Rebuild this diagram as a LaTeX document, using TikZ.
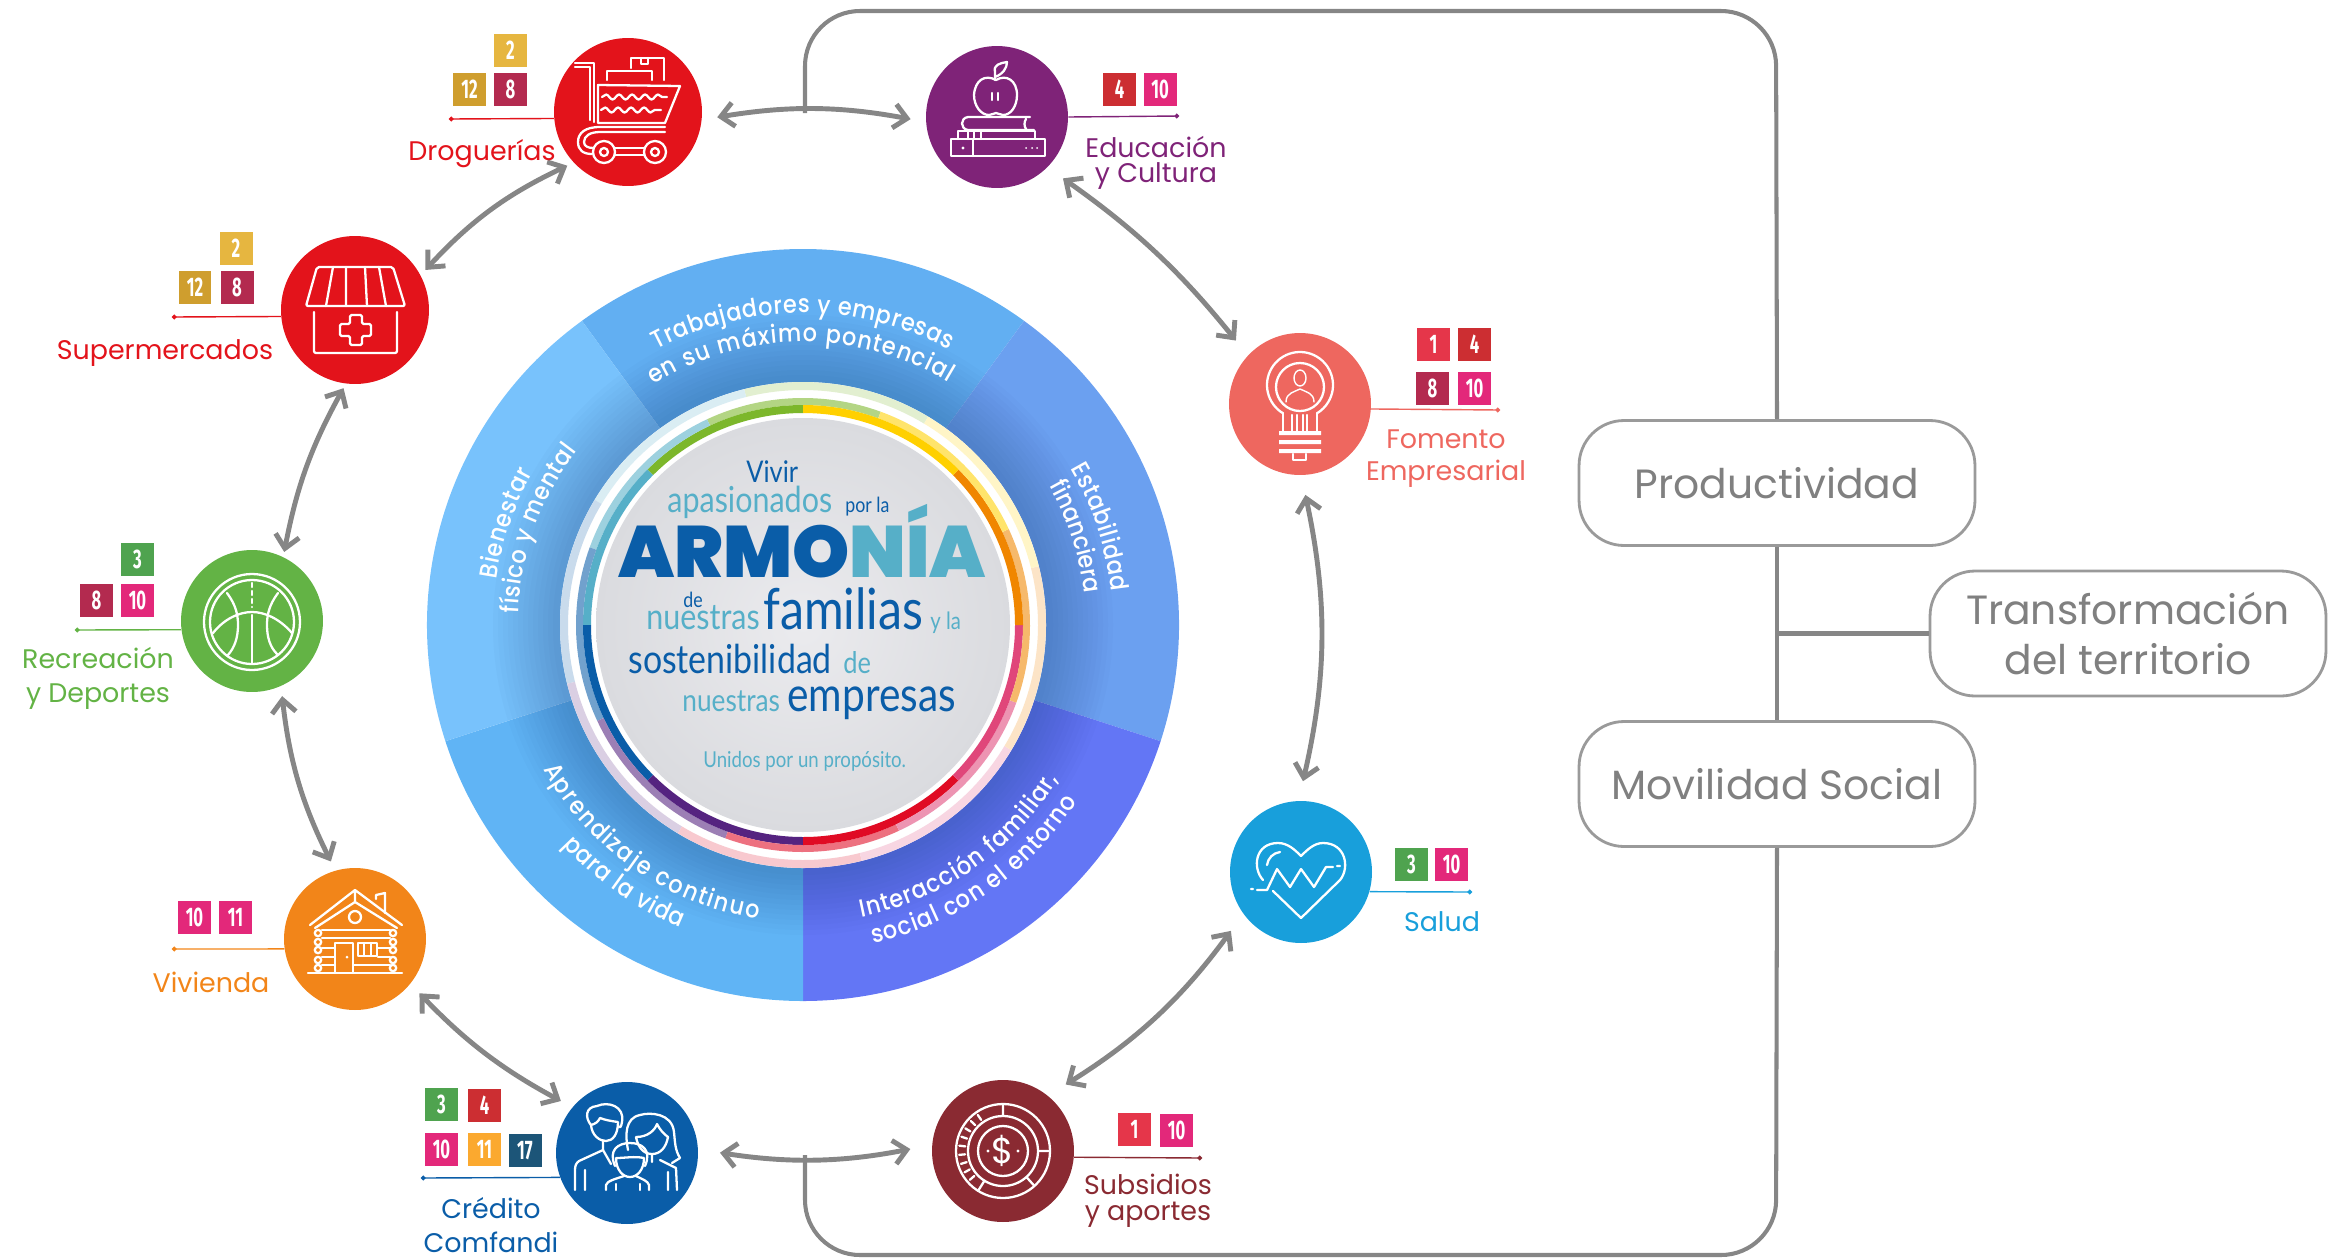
\documentclass[tikz,border=0pt]{standalone}
\usepackage{fontspec}
\setmainfont{Poppins}
\newfontfamily\wordfont[FakeStretch=0.85]{Lato}
\newfontfamily\armfont{Poppins Black}
\newfontfamily\sectorface[FakeStretch=0.9]{Poppins Medium}
\newfontfamily\sdgfont[FakeStretch=0.62]{Fira Sans}
\usetikzlibrary{arrows.meta,decorations.text,decorations.pathmorphing}

\definecolor{linkgray}{HTML}{868686}
\definecolor{boxgray}{HTML}{9A9A9A}
\definecolor{boxtext}{HTML}{808080}
\definecolor{sdgone}{HTML}{E5364A}
\definecolor{sdgtwo}{HTML}{E6B640}
\definecolor{sdgthree}{HTML}{4FA34F}
\definecolor{sdgfour}{HTML}{CC2E32}
\definecolor{sdgeight}{HTML}{B32A4F}
\definecolor{sdgten}{HTML}{E3287A}
\definecolor{sdgeleven}{HTML}{FBA92F}
\definecolor{sdgtwelve}{HTML}{CF9E2E}
\definecolor{sdgseventeen}{HTML}{1C5578}
\definecolor{hubred}{HTML}{E3131B}
\definecolor{hubpurple}{HTML}{7F2378}
\definecolor{hubcoral}{HTML}{EE675F}
\definecolor{hubsky}{HTML}{189FDB}
\definecolor{hubwine}{HTML}{8A2A32}
\definecolor{hubblue}{HTML}{0A5DA8}
\definecolor{huborange}{HTML}{F28519}
\definecolor{hubgreen}{HTML}{63B345}
\definecolor{ringgreen}{HTML}{7CB72B}
\definecolor{ringteal}{HTML}{56AFC8}
\definecolor{ringblue}{HTML}{0A5DA8}
\definecolor{ringpurple}{HTML}{552380}
\definecolor{ringred}{HTML}{E00B24}
\definecolor{ringpink}{HTML}{E0467A}
\definecolor{ringorange}{HTML}{F08600}
\definecolor{ringyellow}{HTML}{FFD000}
\definecolor{secone}{HTML}{62AFF2}
\definecolor{sectwo}{HTML}{6BA0F0}
\definecolor{secthree}{HTML}{6376F5}
\definecolor{secfour}{HTML}{60B4F5}
\definecolor{secfive}{HTML}{78C2FC}
\definecolor{shadeblue}{HTML}{1F3F7A}
\definecolor{discin}{HTML}{EBEBEE}
\definecolor{discout}{HTML}{DADBDF}

% px sizes, one px is .02cm
\newcommand\pxsize[2]{\fontsize{\the\dimexpr.5669pt*#1\relax}{\the\dimexpr.5669pt*#2\relax}\selectfont}
\newcommand\sectorfont{\sectorface\pxsize{25}{29}}
\newcommand\ringseg[5]{\fill[fill=#5] (#1:#3) arc (#1:#2:#3) -- (#2:#4) arc (#2:#1:#4) -- cycle;}
\newlength\armw
\newlength\oww

\tikzset{
  hub/.style={circle,fill=#1,minimum size=2.84cm,inner sep=0pt},
  sdg/.style={fill=#1,text=white,minimum size=.66cm,inner sep=0pt,font=\sdgfont\bfseries\pxsize{27}{27}},
  hublabel/.style={text=#1,anchor=base,align=center,inner sep=0pt,font=\pxsize{27}{34}},
  leader/.style={draw=#1,line width=.8pt,-{Circle[length=.09cm]}},
  link/.style={draw=linkgray,line width=2.8pt,
    {Straight Barb[length=.26cm,width=.48cm]}-{Straight Barb[length=.26cm,width=.48cm]},
    shorten <=#1,shorten >=#1},
  framing/.style={draw=linkgray,line width=2.3pt},
  axis/.style={draw=boxgray,line width=1.6pt,fill=white,rounded corners=.9cm,
    minimum width=7.92cm,minimum height=2.5cm,inner sep=0pt,align=center,
    text=boxtext,font=\pxsize{41}{51}},
  word/.style={anchor=base west,inner sep=0pt,text=#1},
  icon/.style={draw=white,line width=1.3pt,line join=round,line cap=round},
  sectext/.style={decorate,decoration={text along path,text color=white,
    text align={fit to path},text={|\sectorfont|#1}}},
}

\begin{document}
\begin{tikzpicture}[x=.02cm,y=-.02cm]
  \useasboundingbox (0,0) rectangle (2329,1258);

  % wheel
  \begin{scope}[shift={(803,625)},y=.02cm]
    \foreach \sa/\col in {54/secone,-18/sectwo,-90/secthree,-162/secfour,126/secfive}
      \fill[fill=\col] (0,0) -- (\sa:376) arc (\sa:\sa+72:376) -- cycle;
    \foreach \r in {250,255,...,310}
      \fill[shadeblue,opacity=.022] (0,0) circle (\r);
    \fill[white] (0,0) circle (243);
    \foreach \sa/\col in {90/ringgreen,135/ringteal,180/ringblue,225/ringpurple,270/ringred,315/ringpink,0/ringorange,45/ringyellow} {
      \ringseg{\sa-31}{\sa+14}{235}{243}{\col!22}
      \ringseg{\sa-20}{\sa+25}{220}{227}{\col!58}
      \ringseg{\sa}{\sa+45}{212}{220}{\col}
    }
    \shade[inner color=discin,outer color=discout] (0,0) circle (207);

    \path[sectext={Trabajadores y empresas}] (118:312) arc (118:62:312);
    \path[sectext={en su máximo pontencial}] (122:283) arc (122:59:283);
    \path[sectext={Estabilidad}] (30.3:310) arc (30.3:6.1:310);
    \path[sectext={financiera}] (29.5:283) arc (29.5:6.5:283);
    \path[sectext={Interacción familiar,}] (-78.6:298) arc (-78.6:-31.1:298);
    \path[sectext={social con el entorno}] (-77.6:326) arc (-77.6:-32.8:326);
    \path[sectext={Aprendizaje continuo}] (209:297) arc (209:261.3:297);
    \path[sectext={para la vida}] (222.5:326) arc (222.5:248:326);
    \path[sectext={Bienestar}] (171.6:310) arc (171.6:150.6:310);
    \path[sectext={físico y mental}] (177.6:285) arc (177.6:142.4:285);
  \end{scope}

  % words in the disc
  \node[word=ringblue,font=\wordfont\pxsize{30}{30}] (vivir) at (746,482) {Vivir};
  \node[word=ringteal,font=\wordfont\pxsize{36}{36}] (apasion) at (667,512) {apasionados};
  \node[word=ringblue,font=\wordfont\pxsize{21}{21}] (porla) at (845,512) {por la};
  \node[word=ringblue,font=\armfont\pxsize{73}{73}] (armonia) at (618,577) {ARMO\textcolor{ringteal}{NÍA}};
  \settowidth{\armw}{\armfont\pxsize{73}{73}ARM}
  \settowidth{\oww}{\armfont\pxsize{73}{73}O}
  \begin{scope}
    \clip[shift={(618,553)},xshift=\armw+.5*\oww] (22,-38) -- (-23,37) -- (60,37) -- (60,-38) -- cycle;
    \node[word=ringteal,font=\armfont\pxsize{73}{73}] (armoniao) at (618,577) {\phantom{ARM}O};
  \end{scope}
  \node[word=ringblue,font=\wordfont\pxsize{21}{21}] (dea) at (683,607) {de};
  \node[word=ringteal,font=\wordfont\pxsize{36}{36}] (nuesa) at (646,629) {nuestras};
  \node[word=ringblue,font=\wordfont\pxsize{57}{57}] (famil) at (763,629) {familias};
  \node[word=ringteal,font=\wordfont\pxsize{24}{24}] (yla) at (930,629) {y la};
  \node[word=ringblue,font=\wordfont\pxsize{40}{40}] (sosten) at (628,673) {sostenibilidad};
  \node[word=ringteal,font=\wordfont\pxsize{30}{30}] (deb) at (843,673) {de};
  \node[word=ringteal,font=\wordfont\pxsize{31}{31}] (nuesb) at (682,711) {nuestras};
  \node[word=ringblue,font=\wordfont\pxsize{48}{48}] (empres) at (787,711) {empresas};
  \node[word=ringteal,font=\wordfont\pxsize{22}{22}] (unidos) at (703,767) {Unidos por un propósito.};

  % hubs
  \node[hub=hubred,minimum size=2.96cm] (drog) at (628,112) {};
  \node[hub=hubred,minimum size=2.96cm] (super) at (355,310) {};
  \node[hub=hubgreen] (recr) at (252,621) {};
  \node[hub=huborange] (viv) at (355,939) {};
  \node[hub=hubblue] (cred) at (627,1153) {};
  \node[hub=hubwine] (subs) at (1003,1151) {};
  \node[hub=hubsky] (salud) at (1301,872) {};
  \node[hub=hubcoral] (fomen) at (1300,404) {};
  \node[hub=hubpurple] (educ) at (997,117) {};

  % links between hubs
  \draw[link=.31cm] (drog.-6) to[bend left=10] (educ.184.5);
  \draw[link=.44cm] (cred.3) to[bend right=10] (subs.175);
  \draw[link=.14cm] (super.28) to[bend left=11] (drog.223);
  \draw[link=.1cm] (recr.64) to[bend left=9] (super.263);
  \draw[link=.2cm] (recr.-66.5) to[bend right=10] (viv.106);
  \draw[link=.26cm] (viv.-39) to[bend right=9] (cred.140);
  \draw[link=.42cm] (subs.51) to[bend right=11] (salud.216);
  \draw[link=.4cm] (fomen.-89) to[bend left=12.5] (salud.92);
  \draw[link=.38cm] (educ.-45) to[bend left=8] (fomen.137.6);

  % frame and axes
  \node[axis] (prod) at (1777,483) {Productividad};
  \node[axis] (mov) at (1777,784) {Movilidad Social};
  \node[axis] (trans) at (2128,633.5) {Transformación\\del territorio};
  \coordinate (topjoin) at (805,113);
  \coordinate (botjoin) at (805,1155);
  \coordinate (frametl) at (805,11);
  \coordinate (frametr) at (1776,11);
  \coordinate (framebr) at (1776,1255);
  \coordinate (framebl) at (805,1255);
  \coordinate (branch) at (1776,633.5);
  \draw[framing,rounded corners=1.1cm] (topjoin) -- (frametl) -- (frametr) -- (prod.north);
  \draw[framing,rounded corners=1.1cm] (mov.south) -- (framebr) -- (framebl) -- (botjoin);
  \draw[framing] (prod.south) -- (mov.north);
  \draw[framing] (branch) -- (trans.west);

  % labels and leaders
  \coordinate (drogdot) at (449,119);
  \coordinate (superdot) at (172,317);
  \coordinate (recrdot) at (75,630);
  \coordinate (vivdot) at (172,949);
  \coordinate (credot) at (421,1178);
  \coordinate (subsdot) at (1202,1158);
  \coordinate (saluddot) at (1472,892);
  \coordinate (fomendot) at (1500,410);
  \coordinate (educdot) at (1179,116);
  \draw[leader=hubred] (drog.185.4) -- (drogdot);
  \draw[leader=hubred] (super.185.4) -- (superdot);
  \draw[leader=hubgreen] (recr.187.3) -- (recrdot);
  \draw[leader=huborange] (viv.188) -- (vivdot);
  \draw[leader=hubblue] (cred.200.6) -- (credot);
  \draw[leader=hubwine] (subs.-5.7) -- (subsdot);
  \draw[leader=hubsky] (salud.-16.4) -- (saluddot);
  \draw[leader=hubcoral] (fomen.-4.8) -- (fomendot);
  \draw[leader=hubpurple] (educ.0.8) -- (educdot);
  \node[hublabel=hubred] (droglab) at (482,160) {Droguerías};
  \node[hublabel=hubred] (superlab) at (165,359) {Supermercados};
  \node[hublabel=hubgreen] (recrlab) at (98,702) {Recreación\\y Deportes};
  \node[hublabel=huborange] (vivlab) at (211,992) {Vivienda};
  \node[hublabel=hubblue] (credlab) at (491,1252) {Crédito\\Comfandi};
  \node[hublabel=hubwine,font=\pxsize{27}{26}] (subslab) at (1148,1220) {Subsidios\\y aportes};
  \node[hublabel=hubsky] (saludlab) at (1442,931) {Salud};
  \node[hublabel=hubcoral,font=\pxsize{27}{32}] (fomenlab) at (1446,480) {Fomento\\Empresarial};
  \node[hublabel=hubpurple,font=\pxsize{27}{25}] (educlab) at (1156,182) {Educación\\y Cultura};

  % goal squares
  \node[sdg=sdgtwo] (drogb) at (510.5,50.5) {2};
  \node[sdg=sdgtwelve] (drogc) at (469.5,89.5) {12};
  \node[sdg=sdgeight] (drogd) at (510.5,89.5) {8};
  \node[sdg=sdgtwo] (superb) at (236,248) {2};
  \node[sdg=sdgtwelve] (superc) at (195,287) {12};
  \node[sdg=sdgeight] (superd) at (237,287) {8};
  \node[sdg=sdgthree] (recrb) at (137.5,559.5) {3};
  \node[sdg=sdgeight] (recrc) at (96.5,600.5) {8};
  \node[sdg=sdgten] (recrd) at (137.5,600.5) {10};
  \node[sdg=sdgten] (viva) at (194.5,917.5) {10};
  \node[sdg=sdgten] (vivb) at (235.5,917.5) {11};
  \node[sdg=sdgthree] (creda) at (441.5,1104.5) {3};
  \node[sdg=sdgfour] (credb) at (484.5,1105.5) {4};
  \node[sdg=sdgten] (credc) at (441.5,1149.5) {10};
  \node[sdg=sdgeleven] (credd) at (484.5,1149.5) {11};
  \node[sdg=sdgseventeen] (crede) at (525,1150.5) {17};
  \node[sdg=sdgone] (subsa) at (1134.5,1129.5) {1};
  \node[sdg=sdgten] (subsb) at (1176.5,1130.5) {10};
  \node[sdg=sdgthree] (saluda) at (1411.5,864.5) {3};
  \node[sdg=sdgten] (saludb) at (1451.5,864.5) {10};
  \node[sdg=sdgone] (fomena) at (1433.5,344.5) {1};
  \node[sdg=sdgfour] (fomenb) at (1474.5,344.5) {4};
  \node[sdg=sdgeight] (fomenc) at (1432.5,388.5) {8};
  \node[sdg=sdgten] (fomend) at (1474.5,388.5) {10};
  \node[sdg=sdgfour] (educa) at (1119.5,89.5) {4};
  \node[sdg=sdgten] (educb) at (1160,89.5) {10};

  % icons
  \begin{scope}[icon]
    % cart
    \draw (575,63) -- (594,63) -- (594,122);
    \draw (575,67) -- (590,67) -- (590,120);
    \draw (598,85) -- (680,86) -- (665,123) -- (598,123) -- cycle;
    \draw (665,127) -- (600,127) .. controls (585,127) and (578,133) .. (578,142) .. controls (578,150) and (583,154) .. (592,154);
    \draw (665,132) -- (600,132) .. controls (590,132) and (584,136) .. (584,142) .. controls (584,146) and (588,148) .. (593,148);
    \draw (604,152) circle (11) (604,152) circle (4);
    \draw (655,152) circle (11) (655,152) circle (4);
    \draw (615,148) -- (644,148) (615,155) -- (644,155);
    \draw (607,80) -- (607,71) -- (652,71) -- (652,80);
    \draw (631,68) -- (631,58) -- (664,58) -- (664,80);
    \draw (641,58) -- (641,64) -- (648,64) -- (648,58);
    \draw[decorate,decoration={snake,amplitude=.05cm,segment length=.26cm}] (602,97) -- (667,97);
    \draw[decorate,decoration={snake,amplitude=.05cm,segment length=.26cm}] (601,110) -- (661,110);
    % store
    \draw[rounded corners=.04cm] (317,267) -- (393,267) -- (405,306) -- (306,306) -- cycle;
    \draw (333,267) -- (326,306) (346,267) -- (346,306) (365,267) -- (367,306) (379,267) -- (386,306);
    \draw[rounded corners=.04cm] (314,312) -- (314,353) -- (397,353) -- (397,312);
    \draw[rounded corners=.03cm] (350,315) -- (362,315) -- (362,324) -- (371,324) -- (371,336) -- (362,336) -- (362,345) -- (350,345) -- (350,336) -- (340,336) -- (340,324) -- (350,324) -- cycle;
    % ball
    \draw (252,622) circle (48) (252,622) circle (42);
    \draw (252,615) -- (252,663);
    \draw[dashed,dash pattern=on .08cm off .08cm] (252,583) -- (252,607);
    \draw (213,633) .. controls (225,618) and (240,612) .. (252,612) .. controls (264,612) and (279,618) .. (292,633);
    \draw (227,593) .. controls (236,605) and (238,615) .. (238,625) .. controls (238,637) and (235,647) .. (228,655);
    \draw (278,593) .. controls (269,605) and (267,615) .. (267,625) .. controls (267,637) and (270,647) .. (277,654);
    % house
    \draw (310,925) -- (355,890) -- (402,925) (355,890) -- (355,902);
    \draw (315,928) -- (355,902) -- (397,928);
    \draw (376,899) -- (376,895) -- (385,893) -- (385,913);
    \draw (355,917) circle (6);
    \foreach \y in {933,942,950,960,968}
      \draw (318,\y) circle (3.2) (393,\y) circle (3.2);
    \draw (322,930) -- (390,930) (322,938) -- (390,938);
    \foreach \y in {948,957}
      \draw (322,\y) -- (335,\y) (378,\y) -- (390,\y);
    \draw (322,965) -- (335,965) (353,965) -- (390,965);
    \draw (308,973) -- (402,973);
    \draw (335,973) -- (335,943) -- (353,943) -- (353,973);
    \draw (358,943) rectangle (377,956) (364,943) -- (364,956) (371,943) -- (371,956);
    \fill[white] (347,957) circle (1.5);
    % family
    \draw (591,1125) .. controls (585,1118) and (585,1107) .. (597,1106) .. controls (608,1101) and (625,1106) .. (622,1122) .. controls (621,1128) and (620,1128) .. (618,1126);
    \draw (591,1125) .. controls (592,1136) and (600,1141) .. (606,1141) .. controls (613,1141) and (618,1134) .. (618,1122) .. controls (611,1121) and (605,1120) .. (600,1118) .. controls (598,1122) and (595,1124) .. (591,1125);
    \draw (603,1141) -- (603,1150) -- (579,1161) .. controls (576,1163) and (575,1166) .. (575,1170) -- (575,1190);
    \draw (585,1190) -- (585,1170) (603,1150) -- (611,1164);
    \draw (628,1150) .. controls (625,1135) and (625,1118) .. (640,1115) .. controls (650,1112) and (672,1113) .. (674,1132) .. controls (675,1142) and (675,1150) .. (680,1158) -- (672,1163);
    \draw (636,1137) .. controls (648,1137) and (655,1130) .. (657,1124) .. controls (660,1130) and (664,1134) .. (668,1137) .. controls (666,1148) and (660,1154) .. (652,1154) .. controls (644,1154) and (638,1148) .. (636,1137);
    \draw (652,1154) -- (652,1162) (660,1160) -- (676,1168) -- (677,1190) (668,1190) -- (668,1172);
    \draw (615,1166) .. controls (608,1150) and (618,1143) .. (630,1143) .. controls (642,1143) and (652,1150) .. (645,1166);
    \draw (616,1158) .. controls (625,1158) and (635,1156) .. (644,1158) .. controls (644,1170) and (637,1177) .. (630,1177) .. controls (623,1177) and (616,1170) .. (616,1158);
    \draw (606,1190) -- (606,1185) .. controls (607,1181) and (615,1179) .. (624,1176) (649,1190) -- (649,1185) .. controls (648,1181) and (642,1179) .. (636,1176);
    \draw (616,1190) -- (616,1184) (640,1190) -- (640,1184);
    % coin
    \begin{scope}[shift={(subs.center)},y=.02cm]
      \draw (0,0) circle (47) (0,0) circle (35) (0,0) circle (25);
      \draw (90:35) -- (90:47) (0:35) -- (0:47) (-48:35) -- (-48:47) (238:35) -- (238:47);
      \foreach \a in {125,137,...,221}
        \draw (\a:38) -- (\a:44);
      \fill[white] (-15,0) circle (1.6) (15,0) circle (1.6);
    \end{scope}
    % heart
    \draw (1263,880) .. controls (1252,868) and (1255,843) .. (1278,843) .. controls (1288,843) and (1295,850) .. (1301,856) .. controls (1307,850) and (1314,843) .. (1323,843) .. controls (1346,843) and (1350,868) .. (1340,880) -- (1301,918) -- (1273,891);
    \draw (1267,865) .. controls (1268,858) and (1273,853) .. (1280,852);
    \draw (1251,889) -- (1253,889) (1257,890) -- (1267,890) -- (1277,869) -- (1290,887) -- (1301,869) -- (1314,887) -- (1326,867) -- (1333,867) (1337,866) -- (1340,866);
    % bulb
    \draw (1283,432) -- (1283,413) (1317,413) -- (1317,432);
    \begin{scope}[shift={(1300,385)},y=.02cm]
      \draw (238.7:33) arc (238.7:-58.7:33);
      \draw (0,-2) circle (24);
    \end{scope}
    \draw (1292,415) -- (1292,432) (1297,415) -- (1297,432) (1303,415) -- (1303,432) (1307,415) -- (1307,432);
    \fill[white] (1279,431) rectangle (1321,435) (1279,440) rectangle (1321,444) (1279,449) rectangle (1321,453);
    \draw (1293,454) -- (1293,460) -- (1306,460) -- (1306,454);
    \draw[line width=.8pt] (1300,378) ellipse (6 and 8);
    \draw[line width=.8pt] (1286,402) .. controls (1286,393) and (1294,392) .. (1300,389) .. controls (1306,392) and (1314,393) .. (1314,402);
    % apple and books
    \draw (996,80) .. controls (985,74) and (975,80) .. (974,95) .. controls (974,106) and (981,115) .. (989,115) .. controls (992,115) and (994,113) .. (996,113) .. controls (998,113) and (1000,115) .. (1003,115) .. controls (1011,115) and (1017,106) .. (1017,95) .. controls (1017,80) and (1006,74) .. (996,80);
    \draw (995,80) -- (995,70) (995,72) .. controls (993,65) and (1000,63) .. (1007,62) .. controls (1007,68) and (1003,74) .. (995,77);
    \draw (992,93) -- (992,100) (998,93) -- (998,100);
    \draw (1030,117) -- (968,117) .. controls (960,118) and (960,129) .. (968,130) -- (1034,130) (1026,119) .. controls (1024,122) and (1024,126) .. (1026,129);
    \draw (958,139) -- (958,131) -- (1035,131) -- (1035,139);
    \draw (968,131) -- (968,139) (974,131) -- (974,139) (981,131) -- (981,139);
    \draw (951,139) rectangle (1045,156) (973,139) -- (973,156);
    \fill[white] (963,148) circle (1.6) (1026,148) circle (1) (1032,148) circle (1) (1037,148) circle (1);
  \end{scope}
  \node[text=white,inner sep=0pt,font=\pxsize{36}{36}] (dollar) at (subs.center) {\$};
\end{tikzpicture}
\end{document}
